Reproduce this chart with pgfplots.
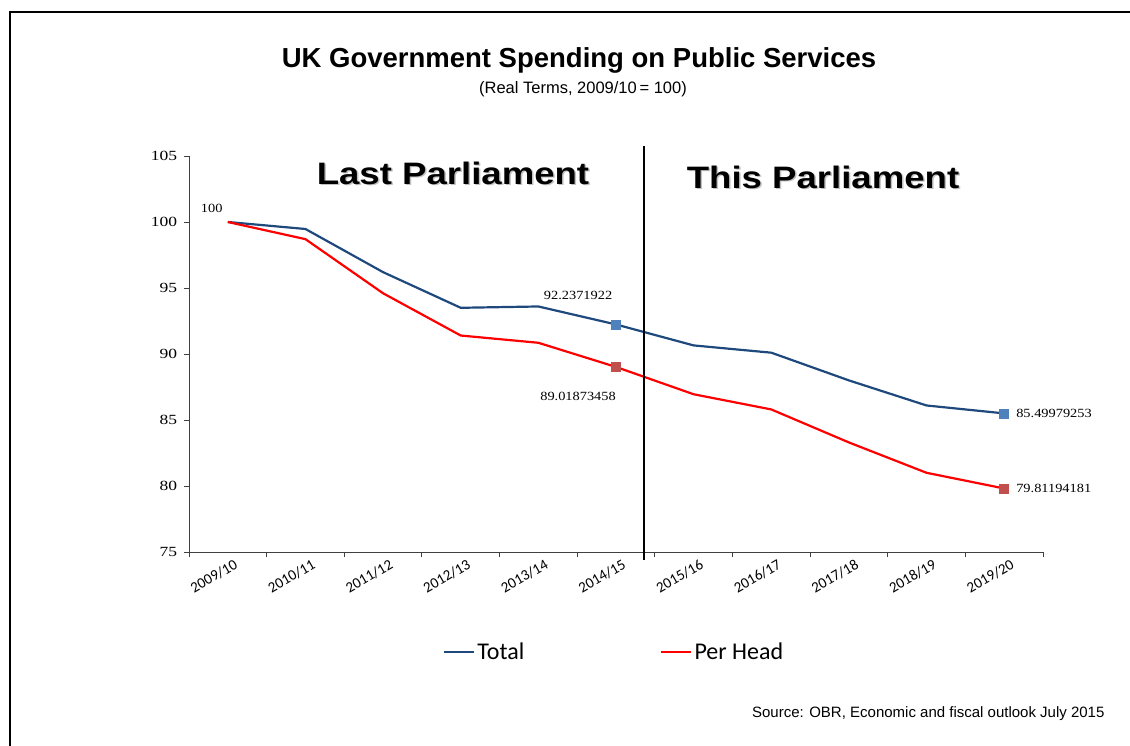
\documentclass[border=0pt]{standalone}
\usepackage{pgfplots}
\pgfplotsset{compat=1.18}
\usepackage{pgfplotstable}
\usepackage{fontspec}
\setmainfont{Liberation Sans}
\newfontfamily\serifnum{Liberation Serif}
\newfontfamily\calib{Carlito}
\definecolor{totline}{HTML}{1F497D}
\definecolor{phline}{HTML}{FF0000}
\definecolor{totmark}{HTML}{4F81BD}
\definecolor{phmark}{HTML}{C0504D}
\definecolor{axcol}{HTML}{404040}

\pgfplotstableread{
x total perhead
0 100 100
1 99.47 98.7
2 96.2 94.6
3 93.5 91.4
4 93.6 90.85
5 92.2371922 89.01873458
6 90.65 86.95
7 90.1 85.8
8 88.0 83.3
9 86.1 81.0
10 85.49979253 79.81194181
}\datatable

\pgfplotstableread{
x total perhead
5 92.2371922 89.01873458
10 85.49979253 79.81194181
}\marktable

\pgfplotstableread{
x y
5.361 74.39
5.361 105.76
}\divider

\begin{document}
\begin{tikzpicture}[x=1pt,y=1pt]
\useasboundingbox (0,0) rectangle (1130,745);
\draw[line width=1.3pt] (10,-5) -- (10,733) -- (1140,733);
\node[font=\bfseries\fontsize{27.5}{30}\selectfont] at (579,685) {UK Government Spending on Public Services};
\node[font=\fontsize{16.5}{18}\selectfont] at (583,656) {(Real Terms, 2009/10\,= 100)};
% panel titles with soft shadow
\node[font=\bfseries\fontsize{31}{34}\selectfont, xscale=1.18, text=black!35, opacity=0.7] at (454.5,570.5) {Last Parliament};
\node[font=\bfseries\fontsize{31}{34}\selectfont, xscale=1.18] at (453,572) {Last Parliament};
\node[font=\bfseries\fontsize{31}{34}\selectfont, xscale=1.18, text=black!35, opacity=0.7] at (824.5,566.5) {This Parliament};
\node[font=\bfseries\fontsize{31}{34}\selectfont, xscale=1.18] at (823,568) {This Parliament};
\node[font=\fontsize{15}{17}\selectfont, anchor=east] at (1108,31) {Source: OBR, Economic and fiscal outlook July 2015};

\begin{axis}[
  at={(189pt,193pt)}, anchor=south west,
  scale only axis, width=854pt, height=396pt,
  xmin=-0.5, xmax=10.5, ymin=75, ymax=105,
  axis lines=left, axis line style={-, axcol, line width=0.9pt},
  tick align=outside, major tick length=5pt,
  tick style={axcol, line width=0.9pt},
  xtick={-0.5,0.5,...,10.5}, xticklabels={{}},
  extra x ticks={0,1,2,3,4,5,6,7,8,9,10},
  extra x tick labels={2009/10,2010/11,2011/12,2012/13,2013/14,2014/15,2015/16,2016/17,2017/18,2018/19,2019/20},
  extra x tick style={major tick length=0pt,
    tick label style={rotate=30, anchor=north east, font=\calib\fontsize{15}{16}\selectfont, xshift=5pt, yshift=-5pt}},
  ytick={75,80,...,105},
  /pgf/number format/assume math mode=true,
  yticklabel style={font=\serifnum\fontsize{14}{15}\selectfont, xscale=1.25, xshift=-2pt},
  clip=false,
  legend columns=2,
  legend style={at={(rel axis cs:0.2974,-0.2525)}, anchor=west, draw=none, fill=none,
    font=\calib\fontsize{24}{26}\selectfont, inner sep=0pt,
    /tikz/every even column/.append style={column sep=134pt}},
  legend image code/.code={\draw[#1, line width=2.2pt] (0pt,0pt) -- (30pt,0pt);},
  legend cell align=left,
]
\addplot[totline, line width=2.2pt] table[x=x, y=total] {\datatable};
\addlegendentry{Total}
\addplot[phline, line width=2.2pt] table[x=x, y=perhead] {\datatable};
\addlegendentry{Per Head}
\addplot[only marks, mark=square*, mark size=4.5pt, totmark, forget plot] table[x=x, y=total] {\marktable};
\addplot[only marks, mark=square*, mark size=4.5pt, phmark, forget plot] table[x=x, y=perhead] {\marktable};
\addplot[black, line width=1.6pt, forget plot] table[x=x, y=y] {\divider};
\node[font=\serifnum\fontsize{12.5}{14}\selectfont, xscale=1.15] at (axis cs:0,100) [xshift=-14pt, yshift=14pt] {100};
\node[font=\serifnum\fontsize{12.5}{14}\selectfont, xscale=1.15] at (axis cs:5,92.2371922) [xshift=-33pt, yshift=29pt] {92.2371922};
\node[font=\serifnum\fontsize{12.5}{14}\selectfont, xscale=1.15] at (axis cs:5,89.01873458) [xshift=-33pt, yshift=-29pt] {89.01873458};
\node[font=\serifnum\fontsize{12.5}{14}\selectfont, xscale=1.15, anchor=west] at (axis cs:10,85.49979253) [xshift=7pt] {85.49979253};
\node[font=\serifnum\fontsize{12.5}{14}\selectfont, xscale=1.15, anchor=west] at (axis cs:10,79.81194181) [xshift=7pt] {79.81194181};
\end{axis}
\end{tikzpicture}
\end{document}
